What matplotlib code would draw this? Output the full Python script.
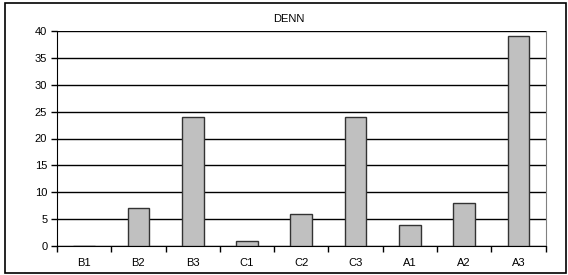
import matplotlib
matplotlib.use("Agg")
import matplotlib.pyplot as plt
from matplotlib.patches import Rectangle
import numpy as np

categories = ["B1", "B2", "B3", "C1", "C2", "C3", "A1", "A2", "A3"]
values = [0, 7, 24, 1, 6, 24, 4, 8, 39]
yticks = [0, 5, 10, 15, 20, 25, 30, 35, 40]
title = "DENN"

plt.rcParams['font.family'] = ['Liberation Sans', 'DejaVu Sans']
W, H = 568, 275
fig = plt.figure(figsize=(W/100, H/100), dpi=100)
ax = fig.add_axes([57/W, 1-246/H, (545.5-57)/W, (246-31)/H])

x = np.arange(len(categories))
ax.bar(x, values, width=0.4, color="#C0C0C0", edgecolor="#333333", linewidth=1.0, zorder=3)
ax.set_xlim(-0.5, len(categories)-0.5)
ax.set_ylim(0, 40)
ax.set_yticks(yticks)
ax.set_yticklabels([str(v) for v in yticks], fontsize=8)
ax.set_xticks(x)
ax.set_xticklabels(categories, fontsize=8)
ax.tick_params(axis='x', length=0, pad=9)
ax.set_xticks(np.arange(len(categories)+1)-0.5, minor=True)
ax.tick_params(axis='x', which='minor', length=4, width=1, direction='out')
ax.tick_params(axis='y', length=4, width=1, direction='out', pad=3)
ax.yaxis.grid(True, color="black", linewidth=1.0, zorder=0)
ax.set_axisbelow(True)
ax.spines['top'].set_visible(False)
ax.spines['right'].set_color('#808080')
ax.spines['left'].set_color('black')
ax.spines['bottom'].set_color('black')

fig.text(289/W, 1-22/H, title, fontsize=8, ha='center', va='baseline')

fig.add_artist(Rectangle((5/W, 1-272.5/H), (565.5-5)/W, (272.5-3)/H, transform=fig.transFigure,
                         fill=False, edgecolor="black", linewidth=1.2))
fig.savefig("out.png", dpi=100)
